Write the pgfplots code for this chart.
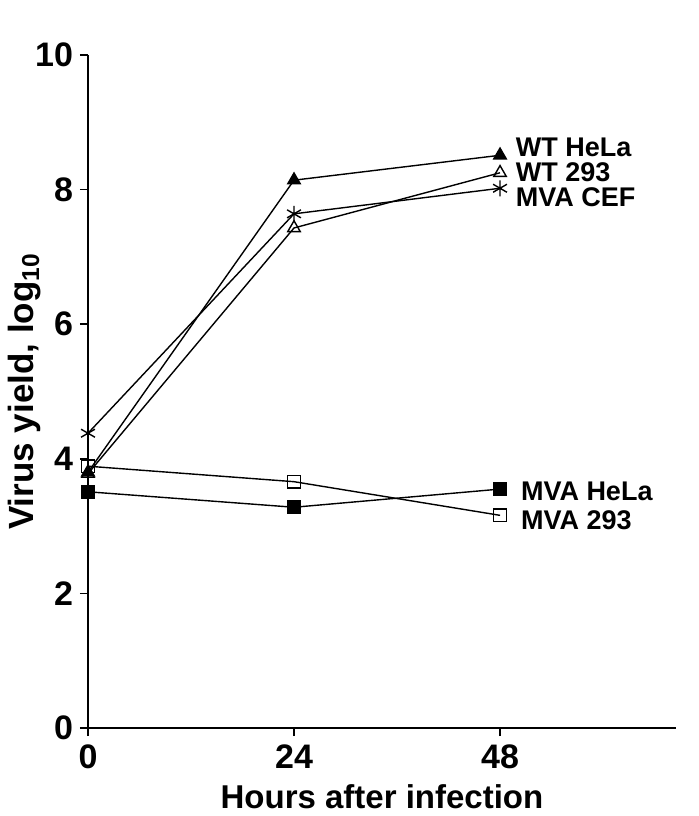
\documentclass[border=0pt]{standalone}
\usepackage{fontspec}
\setmainfont{Liberation Sans}
\usepackage{pgfplots}
\pgfplotsset{compat=1.18}

\begin{document}
\begin{tikzpicture}[x=0.5pt,y=0.5pt]
% page = 699 x 816 px, axis origin at px (88,728)
\useasboundingbox (-88,-88) rectangle (611,728);
\begin{axis}[
  at={(0,0)}, anchor=origin,
  scale only axis,
  width=294pt, height=336.5pt,
  xmin=0, xmax=68.5, ymin=0, ymax=10,
  axis x line=bottom, axis y line=left,
  axis line style={-, line width=1pt},
  xtick={0,24,48}, ytick={0,2,4,6,8,10},
  tick align=outside, major tick length=4pt,
  tick style={line width=0.8pt, black},
  tick label style={font=\fontsize{17}{17}\selectfont\bfseries},
  /pgf/number format/assume math mode=true,
  xticklabel style={yshift=-1pt},
  xlabel={Hours after infection},
  ylabel={Virus yield, log\textsubscript{10}},
  xlabel style={font=\fontsize{16.5}{16.5}\selectfont\bfseries, yshift=-1pt},
  ylabel style={font=\fontsize{17.5}{17.5}\selectfont\bfseries, yshift=-10pt},
  clip=false,
  every axis plot/.append style={black, line width=0.7pt, mark size=3.6pt},
]
% WT HeLa
\addplot[mark=triangle*, mark options={fill=black}] coordinates {(0,3.80) (24,8.14) (48,8.51)};
% WT 293
\addplot[mark=triangle, mark options={fill=white}] coordinates {(0,3.78) (24,7.43) (48,8.25)};
% MVA CEF
\addplot[mark=asterisk, mark size=4pt] coordinates {(0,4.38) (24,7.64) (48,8.02)};
% MVA HeLa
\addplot[mark=square*, mark size=3.2pt, mark options={fill=black}] coordinates {(0,3.51) (24,3.28) (48,3.55)};
% MVA 293
\addplot[mark=square, mark size=3.2pt, mark options={fill=white}] coordinates {(0,3.89) (24,3.66) (48,3.16)};

\begin{scope}[every node/.style={anchor=west, inner sep=0pt, font=\fontsize{13.5}{13.5}\selectfont\bfseries}]
\node at (axis cs:49.8,8.63) {WT HeLa};
\node at (axis cs:49.8,8.26) {WT 293};
\node at (axis cs:49.8,7.89) {MVA CEF};
\node at (axis cs:50.4,3.52) {MVA HeLa};
\node at (axis cs:50.4,3.09) {MVA 293};
\end{scope}
\end{axis}
\end{tikzpicture}
\end{document}
